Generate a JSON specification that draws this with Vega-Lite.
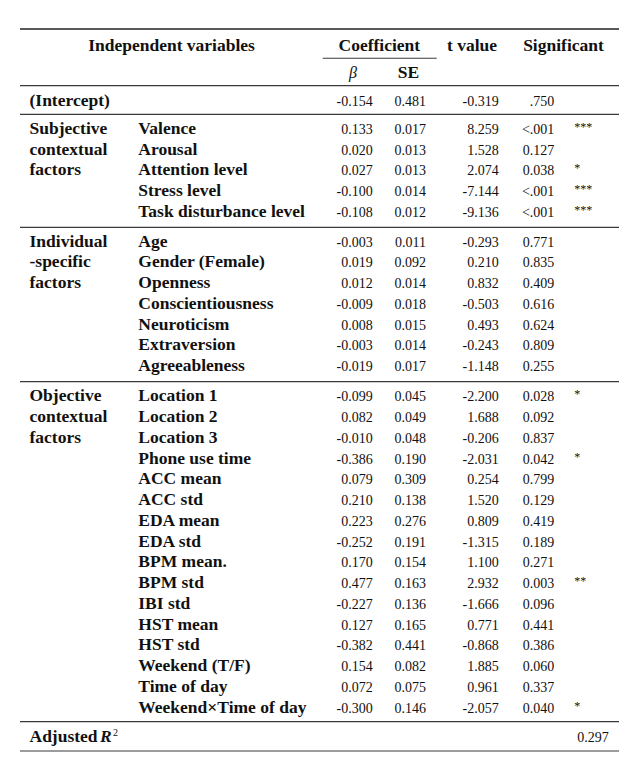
{
  "$schema": "https://vega.github.io/schema/vega-lite/v6.json",
  "width": 626,
  "height": 757,
  "padding": 0,
  "autosize": {"type": "fit", "contains": "padding"},
  "background": "white",
  "config": {"view": {"stroke": null}, "text": {"font": "Liberation Serif", "color": "#111111", "baseline": "alphabetic"}},
  "datasets": {
    "rows": [
      {"line": 2.651, "group": "(Intercept)", "variable": "", "beta": "-0.154", "se": "0.481", "t": "-0.319", "p": ".750", "sig": ""},
      {"line": 4, "group": "Subjective", "variable": "Valence", "beta": "0.133", "se": "0.017", "t": "8.259", "p": "<.001", "sig": "***"},
      {"line": 5, "group": "contextual", "variable": "Arousal", "beta": "0.020", "se": "0.013", "t": "1.528", "p": "0.127", "sig": ""},
      {"line": 6, "group": "factors", "variable": "Attention level", "beta": "0.027", "se": "0.013", "t": "2.074", "p": "0.038", "sig": "*"},
      {"line": 7, "group": "", "variable": "Stress level", "beta": "-0.100", "se": "0.014", "t": "-7.144", "p": "<.001", "sig": "***"},
      {"line": 8, "group": "", "variable": "Task disturbance level", "beta": "-0.108", "se": "0.012", "t": "-9.136", "p": "<.001", "sig": "***"},
      {"line": 9.43, "group": "Individual", "variable": "Age", "beta": "-0.003", "se": "0.011", "t": "-0.293", "p": "0.771", "sig": ""},
      {"line": 10.43, "group": "-specific", "variable": "Gender (Female)", "beta": "0.019", "se": "0.092", "t": "0.210", "p": "0.835", "sig": ""},
      {"line": 11.43, "group": "factors", "variable": "Openness", "beta": "0.012", "se": "0.014", "t": "0.832", "p": "0.409", "sig": ""},
      {"line": 12.43, "group": "", "variable": "Conscientiousness", "beta": "-0.009", "se": "0.018", "t": "-0.503", "p": "0.616", "sig": ""},
      {"line": 13.43, "group": "", "variable": "Neuroticism", "beta": "0.008", "se": "0.015", "t": "0.493", "p": "0.624", "sig": ""},
      {"line": 14.43, "group": "", "variable": "Extraversion", "beta": "-0.003", "se": "0.014", "t": "-0.243", "p": "0.809", "sig": ""},
      {"line": 15.43, "group": "", "variable": "Agreeableness", "beta": "-0.019", "se": "0.017", "t": "-1.148", "p": "0.255", "sig": ""},
      {"line": 16.88, "group": "Objective", "variable": "Location 1", "beta": "-0.099", "se": "0.045", "t": "-2.200", "p": "0.028", "sig": "*"},
      {"line": 17.88, "group": "contextual", "variable": "Location 2", "beta": "0.082", "se": "0.049", "t": "1.688", "p": "0.092", "sig": ""},
      {"line": 18.88, "group": "factors", "variable": "Location 3", "beta": "-0.010", "se": "0.048", "t": "-0.206", "p": "0.837", "sig": ""},
      {"line": 19.88, "group": "", "variable": "Phone use time", "beta": "-0.386", "se": "0.190", "t": "-2.031", "p": "0.042", "sig": "*"},
      {"line": 20.88, "group": "", "variable": "ACC mean", "beta": "0.079", "se": "0.309", "t": "0.254", "p": "0.799", "sig": ""},
      {"line": 21.88, "group": "", "variable": "ACC std", "beta": "0.210", "se": "0.138", "t": "1.520", "p": "0.129", "sig": ""},
      {"line": 22.88, "group": "", "variable": "EDA mean", "beta": "0.223", "se": "0.276", "t": "0.809", "p": "0.419", "sig": ""},
      {"line": 23.88, "group": "", "variable": "EDA std", "beta": "-0.252", "se": "0.191", "t": "-1.315", "p": "0.189", "sig": ""},
      {"line": 24.88, "group": "", "variable": "BPM mean.", "beta": "0.170", "se": "0.154", "t": "1.100", "p": "0.271", "sig": ""},
      {"line": 25.88, "group": "", "variable": "BPM std", "beta": "0.477", "se": "0.163", "t": "2.932", "p": "0.003", "sig": "**"},
      {"line": 26.88, "group": "", "variable": "IBI std", "beta": "-0.227", "se": "0.136", "t": "-1.666", "p": "0.096", "sig": ""},
      {"line": 27.88, "group": "", "variable": "HST mean", "beta": "0.127", "se": "0.165", "t": "0.771", "p": "0.441", "sig": ""},
      {"line": 28.88, "group": "", "variable": "HST std", "beta": "-0.382", "se": "0.441", "t": "-0.868", "p": "0.386", "sig": ""},
      {"line": 29.88, "group": "", "variable": "Weekend (T/F)", "beta": "0.154", "se": "0.082", "t": "1.885", "p": "0.060", "sig": ""},
      {"line": 30.88, "group": "", "variable": "Time of day", "beta": "0.072", "se": "0.075", "t": "0.961", "p": "0.337", "sig": ""},
      {"line": 31.88, "group": "", "variable": "Weekend×Time of day", "beta": "-0.300", "se": "0.146", "t": "-2.057", "p": "0.040", "sig": "*"}
    ],
    "rules": [
      {"line": -1.06, "kind": "top"},
      {"line": 1.672, "kind": "mid"},
      {"line": 3.051, "kind": "mid"},
      {"line": 8.497, "kind": "mid"},
      {"line": 15.937, "kind": "mid"},
      {"line": 32.323, "kind": "mid"},
      {"line": 33.735, "kind": "mid"}
    ],
    "fit": [{"line": 33.287, "label": "Adjusted", "symbol": "R", "power": "2", "value": "0.297"}]
  },
  "data": {"name": "rows"},
  "layer": [
    {
      "data": {"name": "rules"},
      "transform": [{"filter": "datum.kind === 'top'"}],
      "mark": {"type": "rule", "color": "#222222", "strokeWidth": 1.6},
      "encoding": {
        "x": {"datum": 20, "type": "quantitative", "scale": {"domain": [0, 626], "nice": false, "zero": false}, "axis": null},
        "x2": {"datum": 619},
        "y": {"field": "line", "type": "quantitative", "scale": {"domain": [-2.4578, 34.0241], "nice": false, "zero": false, "reverse": true}, "axis": null}
      }
    },
    {
      "data": {"name": "rules"},
      "transform": [{"filter": "datum.kind === 'mid'"}],
      "mark": {"type": "rule", "color": "#3a3a3a", "strokeWidth": 1.2},
      "encoding": {
        "x": {"datum": 20, "type": "quantitative"},
        "x2": {"datum": 619},
        "y": {"field": "line", "type": "quantitative"}
      }
    },
    {
      "data": {"values": [{"line": 0.352}]},
      "mark": {"type": "rule", "color": "#3a3a3a", "strokeWidth": 1.1},
      "encoding": {
        "x": {"datum": 322.7, "type": "quantitative"},
        "x2": {"datum": 436.7},
        "y": {"field": "line", "type": "quantitative"}
      }
    },
    {
      "data": {"values": [{"label": "Independent variables", "line": 0}]},
      "mark": {"type": "text", "fontWeight": "bold", "fontSize": 17.5, "align": "center"},
      "encoding": {"x": {"datum": 171.5, "type": "quantitative"}, "y": {"field": "line", "type": "quantitative"}, "text": {"field": "label"}}
    },
    {
      "data": {"values": [{"label": "Coefficient", "line": 0}]},
      "mark": {"type": "text", "fontWeight": "bold", "fontSize": 17.5, "align": "center"},
      "encoding": {"x": {"datum": 379.3, "type": "quantitative"}, "y": {"field": "line", "type": "quantitative"}, "text": {"field": "label"}}
    },
    {
      "data": {"values": [{"label": "t value", "line": 0}]},
      "mark": {"type": "text", "fontWeight": "bold", "fontSize": 17.5, "align": "center"},
      "encoding": {"x": {"datum": 472, "type": "quantitative"}, "y": {"field": "line", "type": "quantitative"}, "text": {"field": "label"}}
    },
    {
      "data": {"values": [{"label": "Significant", "line": 0}]},
      "mark": {"type": "text", "fontWeight": "bold", "fontSize": 17.5, "align": "center"},
      "encoding": {"x": {"datum": 563.5, "type": "quantitative"}, "y": {"field": "line", "type": "quantitative"}, "text": {"field": "label"}}
    },
    {
      "data": {"values": [{"label": "β", "line": 1.316}]},
      "mark": {"type": "text", "fontStyle": "italic", "fontSize": 16, "align": "center"},
      "encoding": {"x": {"datum": 353, "type": "quantitative"}, "y": {"field": "line", "type": "quantitative"}, "text": {"field": "label"}}
    },
    {
      "data": {"values": [{"label": "SE", "line": 1.316}]},
      "mark": {"type": "text", "fontWeight": "bold", "fontSize": 17.5, "align": "center"},
      "encoding": {"x": {"datum": 408.5, "type": "quantitative"}, "y": {"field": "line", "type": "quantitative"}, "text": {"field": "label"}}
    },
    {
      "mark": {"type": "text", "fontWeight": "bold", "fontSize": 17.5, "align": "left"},
      "encoding": {"x": {"datum": 29.5, "type": "quantitative"}, "y": {"field": "line", "type": "quantitative"}, "text": {"field": "group", "type": "nominal"}}
    },
    {
      "mark": {"type": "text", "fontWeight": "bold", "fontSize": 17.5, "align": "left"},
      "encoding": {"x": {"datum": 138.3, "type": "quantitative"}, "y": {"field": "line", "type": "quantitative"}, "text": {"field": "variable", "type": "nominal"}}
    },
    {
      "mark": {"type": "text", "fontSize": 14, "align": "right"},
      "encoding": {"x": {"datum": 372.7, "type": "quantitative"}, "y": {"field": "line", "type": "quantitative"}, "text": {"field": "beta", "type": "nominal"}}
    },
    {
      "mark": {"type": "text", "fontSize": 14, "align": "right"},
      "encoding": {"x": {"datum": 426, "type": "quantitative"}, "y": {"field": "line", "type": "quantitative"}, "text": {"field": "se", "type": "nominal"}}
    },
    {
      "mark": {"type": "text", "fontSize": 14, "align": "right"},
      "encoding": {"x": {"datum": 498.7, "type": "quantitative"}, "y": {"field": "line", "type": "quantitative"}, "text": {"field": "t", "type": "nominal"}}
    },
    {
      "mark": {"type": "text", "fontSize": 14, "align": "right"},
      "encoding": {"x": {"datum": 554.3, "type": "quantitative"}, "y": {"field": "line", "type": "quantitative"}, "text": {"field": "p", "type": "nominal"}}
    },
    {
      "mark": {"type": "text", "fontSize": 12, "align": "left", "dy": -3},
      "encoding": {"x": {"datum": 574.3, "type": "quantitative"}, "y": {"field": "line", "type": "quantitative"}, "text": {"field": "sig", "type": "nominal"}}
    },
    {
      "data": {"name": "fit"},
      "mark": {"type": "text", "fontWeight": "bold", "fontSize": 17.5, "align": "left"},
      "encoding": {"x": {"datum": 29.5, "type": "quantitative"}, "y": {"field": "line", "type": "quantitative"}, "text": {"field": "label", "type": "nominal"}}
    },
    {
      "data": {"name": "fit"},
      "mark": {"type": "text", "fontWeight": "bold", "fontStyle": "italic", "fontSize": 17.5, "align": "left"},
      "encoding": {"x": {"datum": 100, "type": "quantitative"}, "y": {"field": "line", "type": "quantitative"}, "text": {"field": "symbol", "type": "nominal"}}
    },
    {
      "data": {"name": "fit"},
      "mark": {"type": "text", "fontSize": 10, "align": "left", "dy": -6},
      "encoding": {"x": {"datum": 113, "type": "quantitative"}, "y": {"field": "line", "type": "quantitative"}, "text": {"field": "power", "type": "nominal"}}
    },
    {
      "data": {"name": "fit"},
      "mark": {"type": "text", "fontSize": 14, "align": "right"},
      "encoding": {"x": {"datum": 608.7, "type": "quantitative"}, "y": {"field": "line", "type": "quantitative"}, "text": {"field": "value", "type": "nominal"}}
    }
  ]
}
